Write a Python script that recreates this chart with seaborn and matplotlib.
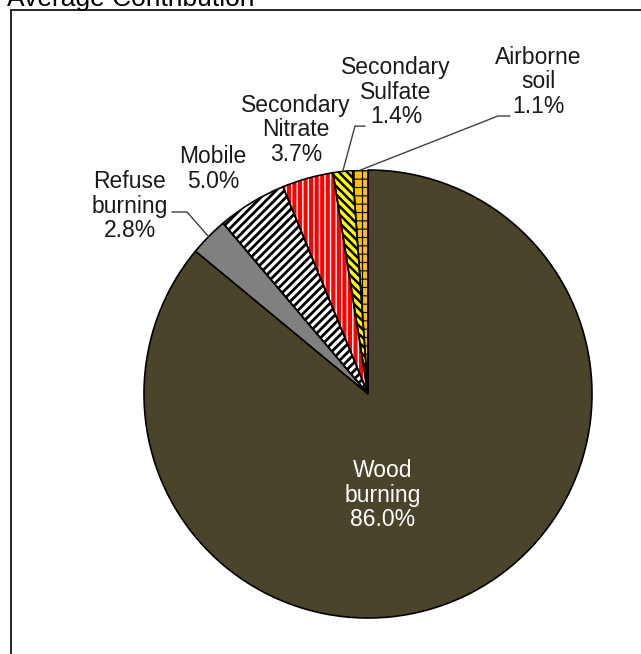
import matplotlib.pyplot as plt
import seaborn as sns
from matplotlib.patches import Wedge
from matplotlib.lines import Line2D
import numpy as np

# ---- data ----
sources = ["Airborne\nsoil", "Secondary\nSulfate", "Secondary\nNitrate",
           "Mobile", "Refuse\nburning", "Wood\nburning"]
shares = [1.1, 1.4, 3.7, 5.0, 2.8, 86.0]

# ---- styling ----
colors = ["#ffc000", "#ffff00", "#ff0000", "#ffffff", "#808080", "#4a442b"]
hatches = ["++", "\\\\\\\\", "|||", "////", None, None]
hatch_lw = [0.8, 1.8, 1.0, 2.0, None, None]
hatch_col = ["black", "black", "white", "black", None, None]

# label centres (data coords, pie radius = 1)
label_xy = [(0.759, 1.393), (0.125, 1.348), (-0.321, 1.179),
            (-0.692, 1.004), (-1.064, 0.839), (0.067, -0.451)]
# leader line: (text end, elbow) for slices that need one
leaders = {0: ((0.634, 1.241), (0.580, 1.241)),
           1: ((-0.013, 1.196), (-0.058, 1.196)),
           4: ((-0.875, 0.8125), (-0.808, 0.8125))}

sns.set_theme(style="white")
plt.rcParams['font.family'] = ['Liberation Sans', 'DejaVu Sans']

W, H = 641, 654
fig = plt.figure(figsize=(W / 100, H / 100), dpi=100)
cx, cy, r = 368, 394, 224
ax = fig.add_axes([(cx - r) / W, (H - cy - r) / H, 2 * r / W, 2 * r / H])

wedges, _ = ax.pie(shares, colors=colors, startangle=90, counterclock=True,
                   wedgeprops=dict(edgecolor="black", linewidth=1.2))
ax.set_xlim(-1, 1)
ax.set_ylim(-1, 1)
ax.axis("off")

for i, w in enumerate(wedges):
    if hatches[i] is None:
        continue
    w.set_edgecolor(hatch_col[i])
    w.set_linewidth(0)
    w.set_hatch(hatches[i])
    if hasattr(w, "set_hatch_linewidth"):
        w.set_hatch_linewidth(hatch_lw[i])
    # black outline on top
    ax.add_patch(Wedge(w.center, w.r, w.theta1, w.theta2, fill=False,
                       edgecolor="black", linewidth=1.2, zorder=w.get_zorder() + 0.1))

for i, (w, name, val) in enumerate(zip(wedges, sources, shares)):
    x, y = label_xy[i]
    col = "white" if i == 5 else "#1a1a1a"
    ax.text(x, y, f"{name}\n{val:.1f}%", ha="center", va="center",
            fontsize=16.5, color=col, linespacing=1.1, clip_on=False)
    if i in leaders:
        ang = np.deg2rad((w.theta1 + w.theta2) / 2)
        p0, p1 = leaders[i]
        ax.add_line(Line2D([p0[0], p1[0], np.cos(ang)], [p0[1], p1[1], np.sin(ang)],
                           color="#404040", linewidth=1.0, clip_on=False))

# cut-off chart title and chart-area frame
fig.text(7 / W, 1 - 6 / H, "Average Contribution", fontsize=19, color="black",
         ha="left", va="baseline")
fig.add_artist(Line2D([11 / W, 1], [1 - 10 / H, 1 - 10 / H],
                      transform=fig.transFigure, color="black", linewidth=1.2))
fig.add_artist(Line2D([11 / W, 11 / W], [0, 1 - 10 / H],
                      transform=fig.transFigure, color="black", linewidth=1.2))

fig.savefig("out.png", dpi=100)
